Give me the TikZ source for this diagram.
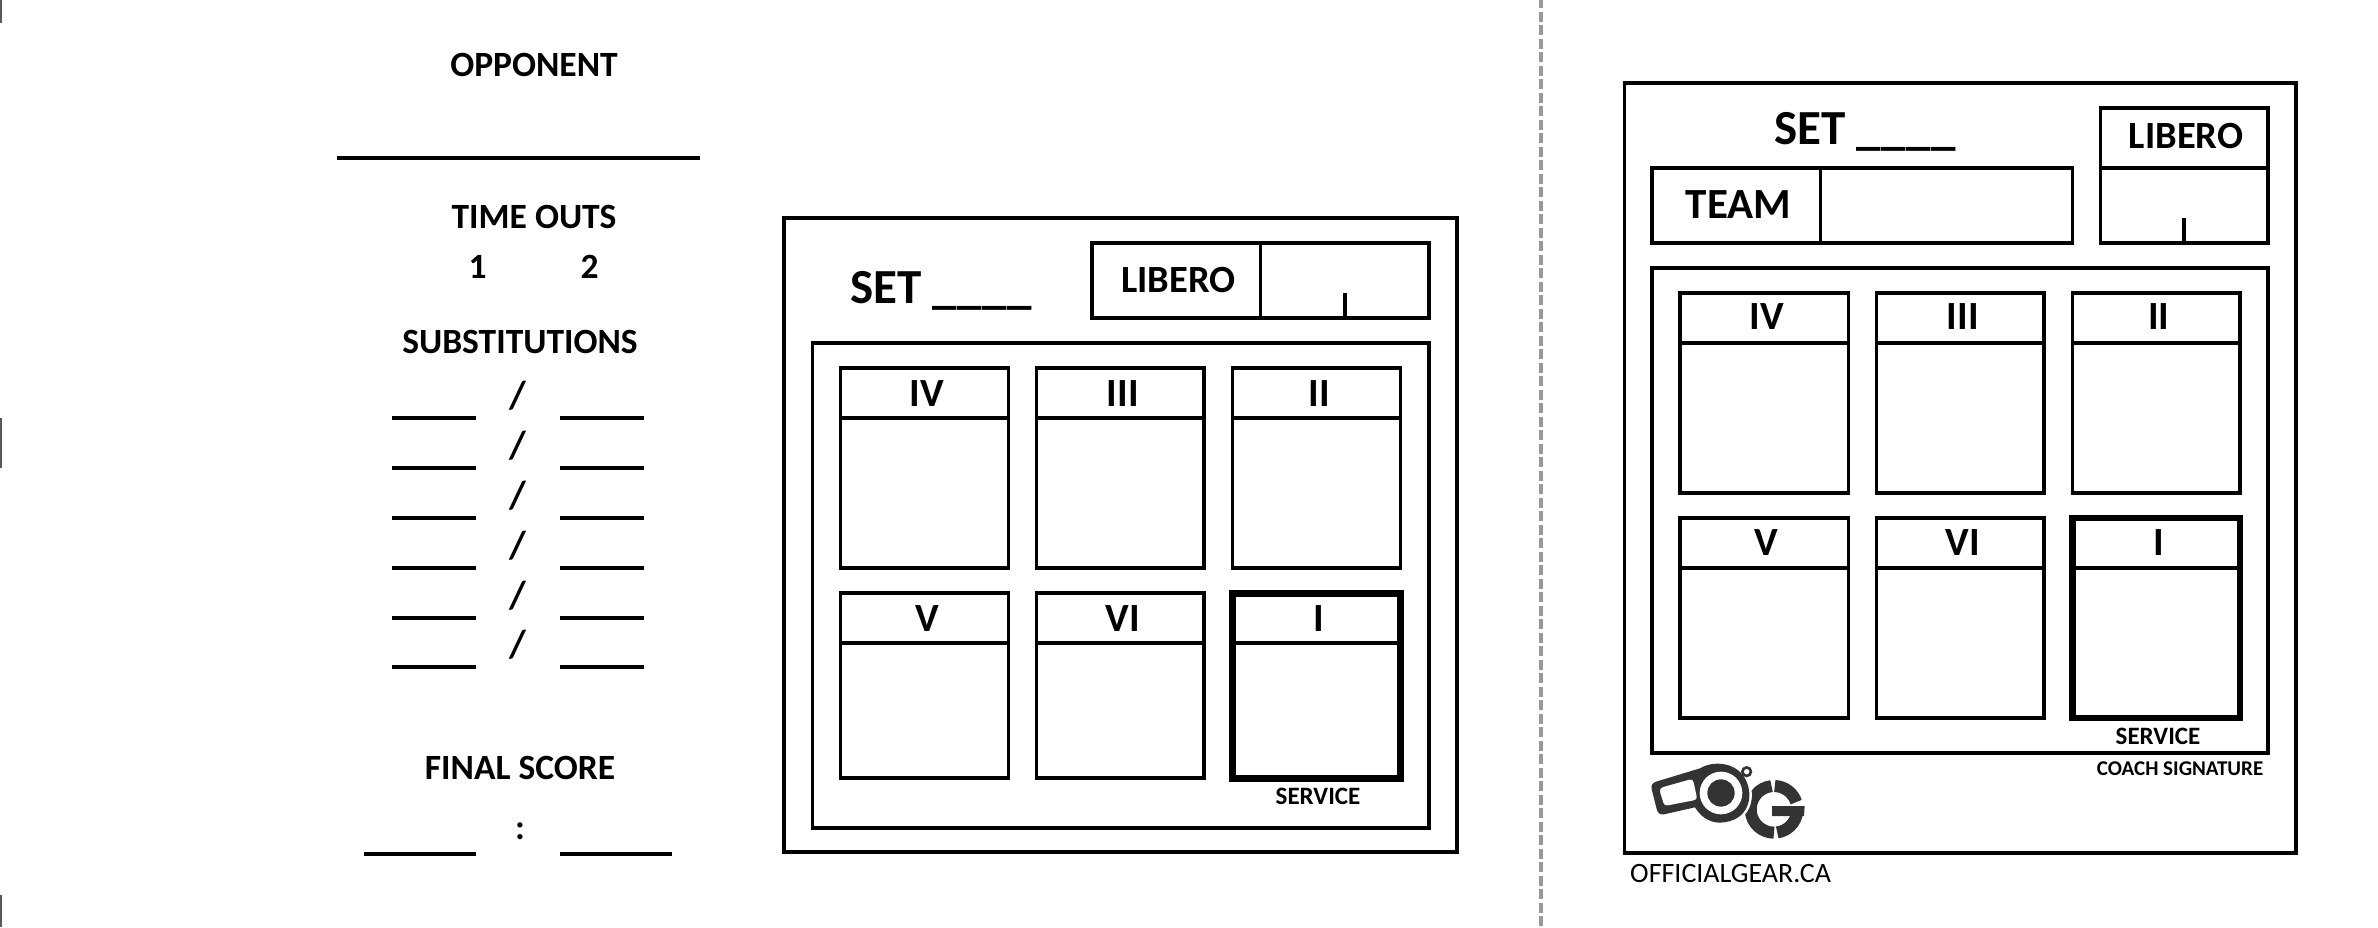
\documentclass[tikz,border=0pt]{standalone}
\usepackage{fontspec}
\setmainfont{Carlito}
\definecolor{logodark}{HTML}{333333}
\newcommand{\fs}[1]{\fontsize{#1}{#1}\selectfont}
\newcommand{\blanks}{\_\kern0.6pt\_\kern0.6pt\_\kern0.6pt\_}
\tikzset{
  rule/.style={draw=black,line width=3.2pt,line cap=butt,line join=miter},
  frame/.style={rule},
  heavy/.style={draw=black,line width=6.6pt,line join=miter},
  lbl/.style={anchor=base,inner sep=0pt,outer sep=0pt,font=\bfseries\fs{#1}},
  lbl/.default=35.5,
  lblw/.style={anchor=base west,inner sep=0pt,outer sep=0pt,font=\bfseries\fs{#1}},
  gmark/.style={draw=logodark,line width=12pt,line cap=butt},
}
% \poscell{x1}{x2}{top}{head}{bottom}{text}{baseline}{name}{style}
\newcommand{\poscell}[9]{%
  \draw[#9] (#1,#3) rectangle (#2,#5);
  \draw[rule] (#1,#4) -- (#2,#4);
  \node[lbl=40] (#8) at ({(#1+#2)/2+2.5},#7) {#6};
}
\begin{document}
\begin{tikzpicture}[x=1pt,y=-1pt]
\useasboundingbox (0,0) rectangle (2378,927);
\fill[white] (0,0) rectangle (2378,927);
% page edge marks
\draw[draw=black!65,line width=3pt] (0,0) -- (0,23);
\draw[draw=black!65,line width=3pt] (0,418) -- (0,468);
\draw[draw=black!65,line width=3pt] (0,895) -- (0,927);
% fold line
\coordinate (foldtop) at (1541,-2);
\coordinate (foldbot) at (1541,927);
\draw[draw=black!40,line width=3.4pt,dash pattern=on 10pt off 3.5pt] (foldtop) -- (foldbot);

% ----- left column -----
\node[lbl] (opp) at (534,76) {OPPONENT};
\draw[rule] (337,158) -- (700,158);
\node[lbl] (to) at (534,228) {TIME OUTS};
\node[lbl] (to1) at (477.5,278) {1};
\node[lbl] (to2) at (589.5,278) {2};
\node[lbl] (subs) at (520,353) {SUBSTITUTIONS};
\foreach \i/\yy in {1/418,2/468,3/518,4/568,5/618,6/667}{
  \draw[rule] (392,\yy) -- (476,\yy);
  \draw[rule] (560,\yy) -- (644,\yy);
  \node[lbl=39] (slash\i) at (518,\yy-9.5) {/};
}
\node[lbl] (final) at (520,779) {FINAL SCORE};
\node[lbl] (colon) at (520,839) {:};
\draw[rule] (364,854) -- (476,854);
\draw[rule] (560,854) -- (672,854);

% ----- middle sheet -----
\draw[frame] (784,218) rectangle (1457,852);
\node[lblw=49] (set1) at (850,303) {SET \blanks};
\draw[rule] (1092,243) rectangle (1429,318);
\draw[rule] (1260.5,243) -- (1260.5,318);
\draw[rule] (1345,293) -- (1345,318);
\node[lbl=38.5] (lib1) at (1178.5,292) {LIBERO};
\draw[frame] (812.5,343) rectangle (1429,828);
\poscell{840.6}{1008.5}{368}{418}{568}{IV}{406}{a4}{rule}
\poscell{1036.5}{1204}{368}{418}{568}{III}{406}{a3}{rule}
\poscell{1232.5}{1400.5}{368}{418}{568}{II}{406}{a2}{rule}
\poscell{840.6}{1008.5}{593}{643}{778}{V}{631}{a5}{rule}
\poscell{1036.5}{1204}{593}{643}{778}{VI}{631}{a6}{rule}
\poscell{1232.5}{1400.5}{593.3}{643}{778.5}{I}{631}{a1}{heavy}
\node[lbl=25] (serv1) at (1318,804) {SERVICE};

% ----- right sheet -----
\draw[frame] (1624.3,83) rectangle (2296,853);
\node[lblw=49] (set2) at (1774,144) {SET \blanks};
\draw[rule] (1652,168) rectangle (2072.5,243);
\draw[rule] (1820.6,168) -- (1820.6,243);
\node[lbl=43] (team) at (1738.5,218) {TEAM};
\draw[rule] (2100.5,108) rectangle (2268,243);
\draw[rule] (2100.5,168) -- (2268,168);
\draw[rule] (2184,218) -- (2184,243);
\node[lbl=38.5] (lib2) at (2186,148) {LIBERO};
\draw[frame] (1652,268) rectangle (2268,753);
\poscell{1680}{1848.6}{293}{343}{493}{IV}{329}{b4}{rule}
\poscell{1876.6}{2044}{293}{343}{493}{III}{329}{b3}{rule}
\poscell{2072.5}{2240}{293}{343}{493}{II}{329}{b2}{rule}
\poscell{1680}{1848.6}{518}{568}{718}{V}{555}{b5}{rule}
\poscell{1876.6}{2044}{518}{568}{718}{VI}{555}{b6}{rule}
\poscell{2072.5}{2240}{518}{568}{718}{I}{555}{b1}{heavy}
\node[lbl=25] (serv2) at (2158,744) {SERVICE};
\node[lbl=21] (coach) at (2180,775) {COACH SIGNATURE};
\node[anchor=base west,inner sep=0pt,font=\fs{28}] (site) at (1630,882) {OFFICIALGEAR.CA};

% ----- logo -----
\begin{scope}[shift={(1640,755)},x=0.3333pt,y=-0.3333pt]
  % G
  \coordinate (gc) at (402,163);
  \draw[gmark] (gc) ++(264:70) arc[start angle=264,end angle=90,radius=70];
  \draw[gmark] (gc) ++(272:70) arc[start angle=272,end angle=342,radius=70];
  \draw[gmark] (gc) ++(8:70) arc[start angle=8,end angle=82,radius=70];
  \fill[logodark] (396,153) -- (494,153) -- (492,183) -- (396,183) -- cycle;
  % whistle halo and body
  \def\whistle{(48,80) -- (180,40) .. controls (215,18) and (285,18) .. (315,70)
    .. controls (345,125) and (325,200) .. (240,203)
    .. controls (205,203) and (180,182) .. (165,157)
    -- (72,178) .. controls (58,180) and (52,172) .. (50,162)
    -- (35,102) .. controls (32,92) and (38,83) .. (48,80) -- cycle}
  \draw[draw=white,line width=5pt,line join=round] \whistle;
  \fill[white] (320,50) circle[radius=23];
  \fill[logodark] \whistle;
  % whistle ring
  \fill[logodark] (320,50) circle[radius=17];
  \fill[white] (320,50) circle[radius=8];
  % mouth
  \fill[white] (70,96) -- (148,74) .. controls (156,72) and (160,76) .. (161,83)
    -- (170,124) .. controls (171,131) and (168,135) .. (161,136)
    -- (84,151) .. controls (76,152) and (72,149) .. (70,143)
    -- (60,110) .. controls (58,103) and (63,98) .. (70,96) -- cycle;
  % barrel
  \fill[white] (243,114) circle[radius=64];
  \fill[logodark] (243,114) circle[radius=41];
\end{scope}
\end{tikzpicture}
\end{document}
